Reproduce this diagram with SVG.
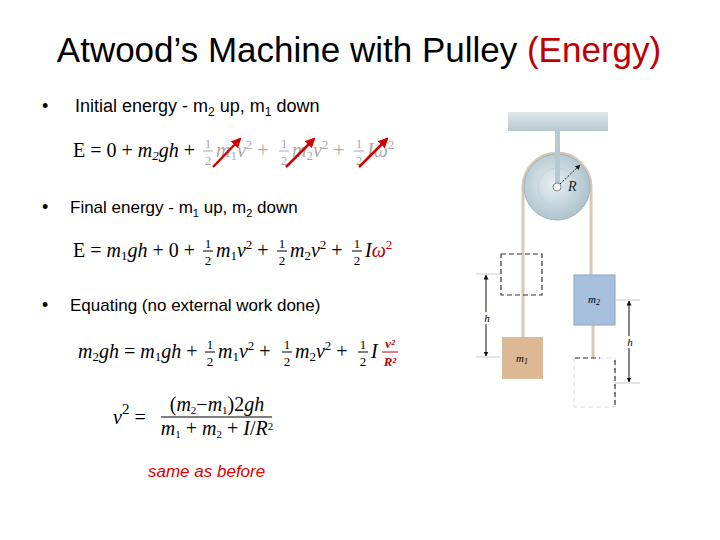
<svg xmlns="http://www.w3.org/2000/svg" width="720" height="540" viewBox="0 0 720 540">
<defs>
<style>
.s{font-family:"Liberation Sans",Arial,sans-serif}
.m{font-family:"Liberation Serif","DejaVu Serif",serif;font-size:20px;fill:#000}
.i{font-style:italic}
.f{font-family:"Liberation Serif",serif;font-size:13px;text-anchor:middle}
.g{fill:#aaa}
.r{fill:#c00000}
.dash{fill:none;stroke:#333;stroke-width:1.2;stroke-dasharray:5,3}
.dim{stroke:#111;stroke-width:1;fill:none}
.tick{stroke:#ccc;stroke-width:1}
.rope{stroke:#d8c8b4;stroke-width:3}
</style>
<marker id="ah" viewBox="0 0 10 10" refX="9" refY="5" markerWidth="5" markerHeight="5" orient="auto-start-reverse"><path d="M0,0L10,5L0,10z" fill="#111"/></marker>
<marker id="ra" viewBox="0 0 10 10" refX="8" refY="5" markerWidth="4" markerHeight="4" orient="auto"><path d="M0,0L10,5L0,10z" fill="#d00000"/></marker>
<radialGradient id="pg" cx="0.45" cy="0.45" r="0.6"><stop offset="0" stop-color="#e8f0f4"/><stop offset="1" stop-color="#a9bfc9"/></radialGradient>
<linearGradient id="cg" x1="0" y1="0" x2="0" y2="1"><stop offset="0" stop-color="#dfe8ec"/><stop offset="1" stop-color="#b7c8d0"/></linearGradient>
</defs>
<rect width="720" height="540" fill="#fff"/>
<text class="s" x="359" y="62" font-size="35" text-anchor="middle">Atwood’s Machine with Pulley <tspan fill="#c00000">(Energy)</tspan></text>

<g id="text">
<text class="s" x="42" y="112" font-size="18">•</text>
<text class="s" x="75" y="112" font-size="18">Initial energy - m<tspan font-size="12" dy="4">2</tspan><tspan dy="-4"> up, m</tspan><tspan font-size="12" dy="4">1</tspan><tspan dy="-4"> down</tspan></text>
<text class="m" x="73" y="157">E = 0 + <tspan class="i">m</tspan><tspan font-size="13" class="i" dy="3">2</tspan><tspan class="i" dy="-3">gh</tspan> +</text>
<text class="f g" x="208" y="148">1</text><line x1="203" y1="151" x2="213" y2="151" stroke="#aaa"/><text class="f g" x="208" y="165">2</text>
<text class="m g" x="216" y="157"><tspan class="i">m</tspan><tspan font-size="13" dy="3">1</tspan><tspan class="i" dy="-3">v</tspan><tspan font-size="13" dy="-8">2</tspan><tspan dy="8"> +</tspan></text>
<text class="f g" x="284" y="148">1</text><line x1="279" y1="151" x2="289" y2="151" stroke="#aaa"/><text class="f g" x="284" y="165">2</text>
<text class="m g" x="292" y="157"><tspan class="i">m</tspan><tspan font-size="13" dy="3">2</tspan><tspan class="i" dy="-3">v</tspan><tspan font-size="13" dy="-8">2</tspan><tspan dy="8"> +</tspan></text>
<text class="f g" x="359" y="148">1</text><line x1="354" y1="151" x2="364" y2="151" stroke="#aaa"/><text class="f g" x="359" y="165">2</text>
<text class="m g i" x="367" y="157">Iω<tspan font-size="13" dy="-8" font-style="normal">2</tspan></text>
<g stroke="#d00000" stroke-width="2.5" marker-end="url(#ra)">
<line x1="213" y1="167" x2="240" y2="139"/><line x1="286" y1="167" x2="314" y2="139"/><line x1="359" y1="167" x2="387" y2="139"/>
</g>

<text class="s" x="42" y="213" font-size="18">•</text>
<text class="s" x="70" y="213" font-size="17">Final energy - m<tspan font-size="11" dy="4">1</tspan><tspan dy="-4"> up, m</tspan><tspan font-size="11" dy="4">2</tspan><tspan dy="-4"> down</tspan></text>
<text class="m" x="73" y="257">E = <tspan class="i">m</tspan><tspan font-size="13" dy="3">1</tspan><tspan class="i" dy="-3">gh</tspan> + 0 +</text>
<text class="f" x="208" y="248">1</text><line x1="203" y1="251" x2="213" y2="251" stroke="#000"/><text class="f" x="208" y="265">2</text>
<text class="m" x="216" y="257"><tspan class="i">m</tspan><tspan font-size="13" dy="3">1</tspan><tspan class="i" dy="-3">v</tspan><tspan font-size="13" dy="-8">2</tspan><tspan dy="8"> +</tspan></text>
<text class="f" x="282" y="248">1</text><line x1="277" y1="251" x2="287" y2="251" stroke="#000"/><text class="f" x="282" y="265">2</text>
<text class="m" x="290" y="257"><tspan class="i">m</tspan><tspan font-size="13" dy="3">2</tspan><tspan class="i" dy="-3">v</tspan><tspan font-size="13" dy="-8">2</tspan><tspan dy="8"> +</tspan></text>
<text class="f" x="357" y="248">1</text><line x1="352" y1="251" x2="362" y2="251" stroke="#000"/><text class="f" x="357" y="265">2</text>
<text class="m i" x="365" y="257">I<tspan class="r">ω</tspan><tspan font-size="13" dy="-8" font-style="normal" class="r">2</tspan></text>

<text class="s" x="42" y="311" font-size="18">•</text>
<text class="s" x="70" y="311" font-size="17">Equating (no external work done)</text>
<text class="m" x="78" y="358"><tspan class="i">m</tspan><tspan font-size="13" dy="3">2</tspan><tspan class="i" dy="-3">gh</tspan> = <tspan class="i">m</tspan><tspan font-size="13" dy="3">1</tspan><tspan class="i" dy="-3">gh</tspan> +</text>
<text class="f" x="210" y="349">1</text><line x1="205" y1="352" x2="215" y2="352" stroke="#000"/><text class="f" x="210" y="366">2</text>
<text class="m" x="218" y="358"><tspan class="i">m</tspan><tspan font-size="13" dy="3">1</tspan><tspan class="i" dy="-3">v</tspan><tspan font-size="13" dy="-8">2</tspan><tspan dy="8"> +</tspan></text>
<text class="f" x="287" y="349">1</text><line x1="282" y1="352" x2="292" y2="352" stroke="#000"/><text class="f" x="287" y="366">2</text>
<text class="m" x="295" y="358"><tspan class="i">m</tspan><tspan font-size="13" dy="3">2</tspan><tspan class="i" dy="-3">v</tspan><tspan font-size="13" dy="-8">2</tspan><tspan dy="8"> +</tspan></text>
<text class="f" x="363" y="349">1</text><line x1="358" y1="352" x2="368" y2="352" stroke="#000"/><text class="f" x="363" y="366">2</text>
<text class="m i" x="371" y="358">I</text>
<text class="f r i" x="390" y="348" font-weight="bold">v²</text><line x1="382" y1="352" x2="398" y2="352" stroke="#c00000"/><text class="f r i" x="390" y="366" font-weight="bold">R²</text>

<text class="m i" x="113" y="424" font-size="24">v<tspan font-size="15" dy="-10" font-style="normal">2</tspan><tspan dy="10" font-style="normal"> =</tspan></text>
<text class="m" x="217" y="411" font-size="15" text-anchor="middle">(<tspan class="i">m</tspan><tspan font-size="11" dy="3">2</tspan><tspan dy="-3">−</tspan><tspan class="i">m</tspan><tspan font-size="11" dy="3">1</tspan><tspan dy="-3">)2</tspan><tspan class="i">gh</tspan></text>
<text class="m" x="217" y="435" font-size="15" text-anchor="middle"><tspan class="i">m</tspan><tspan font-size="11" dy="3">1</tspan><tspan dy="-3"> + </tspan><tspan class="i">m</tspan><tspan font-size="11" dy="3">2</tspan><tspan dy="-3"> + </tspan><tspan class="i">I</tspan>/<tspan class="i">R</tspan><tspan font-size="11" dy="-5">2</tspan></text>
<line x1="161" y1="417" x2="272" y2="417" stroke="#000" stroke-width="1.2"/>
<text class="s" x="148" y="477" font-size="17" font-style="italic" fill="#e00000">same as before</text>
</g>

<g id="support"><rect x="508" y="112" width="100" height="19" fill="url(#cg)"/></g>
<g id="connectors">
<line class="rope" x1="523" y1="187" x2="523" y2="338"/>
<line class="rope" x1="591" y1="187" x2="591" y2="276"/>
<line class="rope" x1="593" y1="325" x2="593" y2="358"/>
</g>
<g id="pulley">
<path d="M523,187 A34,34 0 0 1 591,187" fill="none" stroke="#d8c8b4" stroke-width="3"/>
<circle cx="557" cy="187" r="33" fill="url(#pg)" stroke="#9fb4be"/>
<circle cx="557" cy="187" r="19" fill="none" stroke="#c2d2da"/>
<rect x="555" y="131" width="5" height="52" fill="#b7cad3"/>
<circle cx="557" cy="187" r="4" fill="#fff" stroke="#889"/>
<line x1="560" y1="184" x2="580" y2="165" stroke="#111" stroke-dasharray="2,1.5" marker-end="url(#ah)"/>
<text x="568" y="191" font-family="Liberation Serif,serif" font-style="italic" font-size="14" fill="#222">R</text>
</g>
<g id="m1-initial"><rect class="dash" x="501" y="254" width="41" height="41"/></g>
<g id="m1"><rect x="502" y="337" width="41" height="42" fill="#dcb894"/><text x="522" y="362" font-family="Liberation Serif,serif" font-style="italic" font-size="11" text-anchor="middle">m<tspan font-size="8" dy="2">1</tspan></text></g>
<g id="m2"><rect x="574" y="275" width="41" height="50" fill="#a6bfdc" stroke="#8aa4c4"/><text x="594" y="303" font-family="Liberation Serif,serif" font-style="italic" font-size="11" text-anchor="middle">m<tspan font-size="8" dy="2">2</tspan></text></g>
<g id="m2-final"><rect x="574" y="358" width="41" height="49" fill="none" stroke="#ddd" stroke-dasharray="5,3"/><line class="dash" x1="615" y1="360" x2="615" y2="407"/><line class="dash" x1="575" y1="358" x2="600" y2="358"/></g>
<g id="dims">
<line class="tick" x1="476" y1="274" x2="500" y2="274"/><line class="tick" x1="476" y1="357" x2="500" y2="357"/>
<line class="dim" x1="486" y1="275" x2="486" y2="356" marker-start="url(#ah)" marker-end="url(#ah)"/>
<rect x="482" y="312" width="10" height="12" fill="#fff"/>
<text x="487" y="322" font-family="Liberation Serif,serif" font-style="italic" font-size="11" text-anchor="middle">h</text>
<line class="tick" x1="615" y1="300" x2="640" y2="300"/><line class="tick" x1="615" y1="383" x2="640" y2="383"/>
<line class="dim" x1="629" y1="301" x2="629" y2="382" marker-start="url(#ah)" marker-end="url(#ah)"/>
<rect x="625" y="336" width="10" height="12" fill="#fff"/>
<text x="630" y="346" font-family="Liberation Serif,serif" font-style="italic" font-size="11" text-anchor="middle">h</text>
</g>
</svg>
